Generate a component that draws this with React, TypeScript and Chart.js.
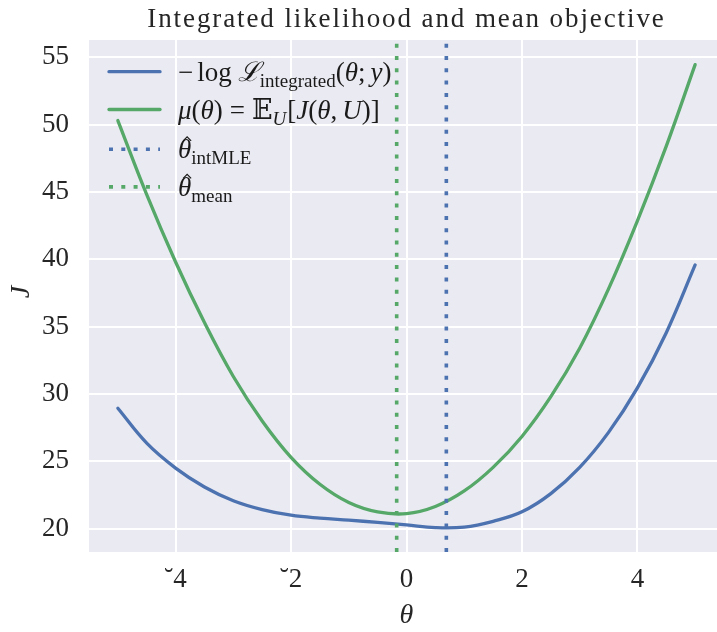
import React, { useEffect, useRef } from "react";
import { Chart, registerables } from "chart.js";

Chart.register(...registerables);

// ---- data ----
const thetaGrid = [-5, -4.5, -4, -3.5, -3, -2.5, -2, -1.5, -1, -0.5, 0, 0.5, 1, 1.5, 2, 2.5, 3, 3.5, 4, 4.5, 5];
const negLogIntegrated = [28.94, 26.35, 24.5, 23.1, 22.08, 21.42, 21.0, 20.78, 20.63, 20.47, 20.28, 20.08, 20.12, 20.55, 21.25, 22.6, 24.55, 27.15, 30.45, 34.55, 39.58];
const meanObjective = [50.3, 44.8, 39.8, 35.3, 31.3, 28.0, 25.3, 23.3, 21.95, 21.25, 21.12, 21.65, 22.8, 24.55, 26.85, 29.8, 33.4, 37.8, 42.85, 48.4, 54.45];
const thetaIntMLE = 0.69;
const thetaMean = -0.17;
const xTicks = [-4, -2, 0, 2, 4];
const xTickLabels = ["˘4", "˘2", "0", "2", "4"];
const yTicks = [20, 25, 30, 35, 40, 45, 50, 55];
const titleText = "Integrated likelihood and mean objective";
const xLabel = "θ";
const yLabel = "J";

const X_MIN = -5.5;
const X_MAX = 5.5;
const Y_MIN = 18.27;
const Y_MAX = 56.28;

const BLUE = "#4C72B0";
const GREEN = "#55A868";
const BG = "#EAEAF2";
const TEXT = "#262626";
const SERIF = "'Liberation Serif', 'DejaVu Serif', serif";

type Seg = { t: string; size: number; italic?: boolean; dy?: number; gap?: number; hat?: boolean };

function drawSegs(ctx: CanvasRenderingContext2D, x: number, y: number, segs: Seg[]) {
  let cx = x;
  for (const s of segs) {
    cx += s.gap || 0;
    ctx.font = `${s.italic ? "italic " : ""}${s.size}px ${SERIF}`;
    ctx.fillText(s.t, cx, y + (s.dy || 0));
    const w = ctx.measureText(s.t).width;
    if (s.hat) {
      const hx = cx + w / 2 + 2.5;
      const hy = y - s.size * 0.74;
      ctx.save();
      ctx.strokeStyle = ctx.fillStyle as string;
      ctx.lineWidth = 1.2;
      ctx.beginPath();
      ctx.moveTo(hx - 4, hy + 2.5);
      ctx.lineTo(hx, hy - 1.5);
      ctx.lineTo(hx + 4, hy + 2.5);
      ctx.stroke();
      ctx.restore();
    }
    cx += w;
  }
}

const M = 27; // main legend size
const S = 19; // subscript size
const SUB = 6;

const legendRows: { color: string; dashed: boolean; segs: Seg[] }[] = [
  {
    color: BLUE,
    dashed: false,
    segs: [
      { t: "−", size: M },
      { t: "log", size: M, gap: 4 },
      { t: "ℒ", size: M, italic: true, gap: 6 },
      { t: "integrated", size: S, dy: SUB },
      { t: "(", size: M },
      { t: "θ", size: M, italic: true },
      { t: ";", size: M },
      { t: "y", size: M, italic: true, gap: 5 },
      { t: ")", size: M },
    ],
  },
  {
    color: GREEN,
    dashed: false,
    segs: [
      { t: "μ", size: M, italic: true },
      { t: "(", size: M },
      { t: "θ", size: M, italic: true },
      { t: ")", size: M },
      { t: "=", size: M, gap: 7 },
      { t: "𝔼", size: M, gap: 7 },
      { t: "U", size: S, italic: true, dy: SUB },
      { t: "[", size: M, gap: 1 },
      { t: "J", size: M, italic: true },
      { t: "(", size: M },
      { t: "θ", size: M, italic: true },
      { t: ",", size: M },
      { t: "U", size: M, italic: true, gap: 5 },
      { t: ")]", size: M },
    ],
  },
  {
    color: BLUE,
    dashed: true,
    segs: [
      { t: "θ", size: M, italic: true, hat: true },
      { t: "intMLE", size: S, dy: SUB },
    ],
  },
  {
    color: GREEN,
    dashed: true,
    segs: [
      { t: "θ", size: M, italic: true, hat: true },
      { t: "mean", size: S, dy: SUB },
    ],
  },
];

const decorPlugin = {
  id: "decor",
  beforeDraw(chart: any) {
    const { ctx, chartArea } = chart;
    ctx.save();
    ctx.fillStyle = "#ffffff";
    ctx.fillRect(0, 0, chart.width, chart.height);
    ctx.fillStyle = BG;
    ctx.fillRect(chartArea.left, chartArea.top, chartArea.right - chartArea.left, chartArea.bottom - chartArea.top);
    ctx.restore();
  },
  afterDraw(chart: any) {
    const { ctx, chartArea } = chart;
    const cx = (chartArea.left + chartArea.right) / 2;
    ctx.save();
    ctx.fillStyle = TEXT;
    // title
    ctx.font = `27px ${SERIF}`;
    ctx.textAlign = "center";
    ctx.textBaseline = "alphabetic";
    try {
      (ctx as any).letterSpacing = "1.9px";
    } catch (e) {}
    ctx.fillText(titleText, cx, 27);
    try {
      (ctx as any).letterSpacing = "0px";
    } catch (e) {}
    // x label
    ctx.textBaseline = "middle";
    ctx.font = `italic 28px ${SERIF}`;
    ctx.fillText(xLabel, cx, 616);
    // y label
    ctx.save();
    ctx.translate(22, 292);
    ctx.rotate(-Math.PI / 2);
    ctx.fillText(yLabel, 0, 0);
    ctx.restore();

    // legend
    ctx.textAlign = "left";
    ctx.textBaseline = "alphabetic";
    const lineX0 = 109;
    const lineX1 = 160;
    const textX = 178;
    const rowYs = [71.7, 109.5, 149.3, 186.9];
    legendRows.forEach((row, i) => {
      const y = rowYs[i];
      ctx.save();
      ctx.strokeStyle = row.color;
      ctx.lineWidth = row.dashed ? 3.6 : 3.3;
      ctx.lineCap = row.dashed ? "butt" : "round";
      if (row.dashed) ctx.setLineDash([4, 8.3]);
      ctx.beginPath();
      ctx.moveTo(lineX0, y);
      ctx.lineTo(lineX1, y);
      ctx.stroke();
      ctx.restore();
      ctx.fillStyle = "#1a1a1a";
      drawSegs(ctx, textX, y + 9, row.segs);
    });
    ctx.restore();
  },
};

export default function App() {
  const ref = useRef<HTMLCanvasElement | null>(null);
  useEffect(() => {
    document.body.style.margin = "0";
    const canvas = ref.current;
    if (!canvas) return;
    const chart = new Chart(canvas, {
      type: "line",
      data: {
        datasets: [
          {
            label: "-log L integrated",
            data: thetaGrid.map((t, i) => ({ x: t, y: negLogIntegrated[i] })),
            borderColor: BLUE,
            borderWidth: 3.3,
            pointRadius: 0,
            tension: 0.4,
            borderCapStyle: "round",
            order: 2,
          },
          {
            label: "mu",
            data: thetaGrid.map((t, i) => ({ x: t, y: meanObjective[i] })),
            borderColor: GREEN,
            borderWidth: 3.3,
            pointRadius: 0,
            tension: 0.4,
            borderCapStyle: "round",
            order: 2,
          },
          {
            label: "theta intMLE",
            data: [
              { x: thetaIntMLE, y: Y_MIN },
              { x: thetaIntMLE, y: Y_MAX },
            ],
            borderColor: BLUE,
            borderWidth: 3.6,
            borderDash: [4, 8.3],
            pointRadius: 0,
            order: 1,
          },
          {
            label: "theta mean",
            data: [
              { x: thetaMean, y: Y_MIN },
              { x: thetaMean, y: Y_MAX },
            ],
            borderColor: GREEN,
            borderWidth: 3.6,
            borderDash: [4, 8.3],
            pointRadius: 0,
            order: 0,
          },
        ],
      },
      options: {
        responsive: false,
        animation: false,
        devicePixelRatio: 1,
        layout: { padding: { left: 0, top: 40, right: 12, bottom: 0 } },
        scales: {
          x: {
            type: "linear",
            min: X_MIN,
            max: X_MAX,
            afterBuildTicks: (axis: any) => {
              axis.ticks = xTicks.map((v) => ({ value: v }));
            },
            afterFit: (s: any) => {
              s.height = 80;
            },
            grid: { color: "#ffffff", lineWidth: 2, drawTicks: false },
            border: { display: false },
            ticks: {
              padding: 12,
              color: TEXT,
              font: { family: SERIF, size: 27 },
              maxRotation: 0,
              callback: (v: any) => {
                const i = xTicks.indexOf(Number(v));
                return i >= 0 ? xTickLabels[i] : "";
              },
            },
          },
          y: {
            type: "linear",
            min: Y_MIN,
            max: Y_MAX,
            afterBuildTicks: (axis: any) => {
              axis.ticks = yTicks.map((v) => ({ value: v }));
            },
            afterFit: (s: any) => {
              s.width = 89;
            },
            grid: { color: "#ffffff", lineWidth: 2, drawTicks: false },
            border: { display: false },
            ticks: {
              padding: 20,
              color: TEXT,
              font: { family: SERIF, size: 27 },
              callback: (v: any) => String(v),
            },
          },
        },
        plugins: {
          legend: { display: false },
          tooltip: { enabled: false },
        },
      },
      plugins: [decorPlugin],
    } as any);
    return () => chart.destroy();
  }, []);
  return (
    <div style={{ position: "fixed", left: 0, top: 0, width: 717, height: 632, overflow: "hidden", background: "#fff" }}>
      <canvas ref={ref} width={736} height={632} style={{ display: "block", width: 736, height: 632 }} />
    </div>
  );
}
